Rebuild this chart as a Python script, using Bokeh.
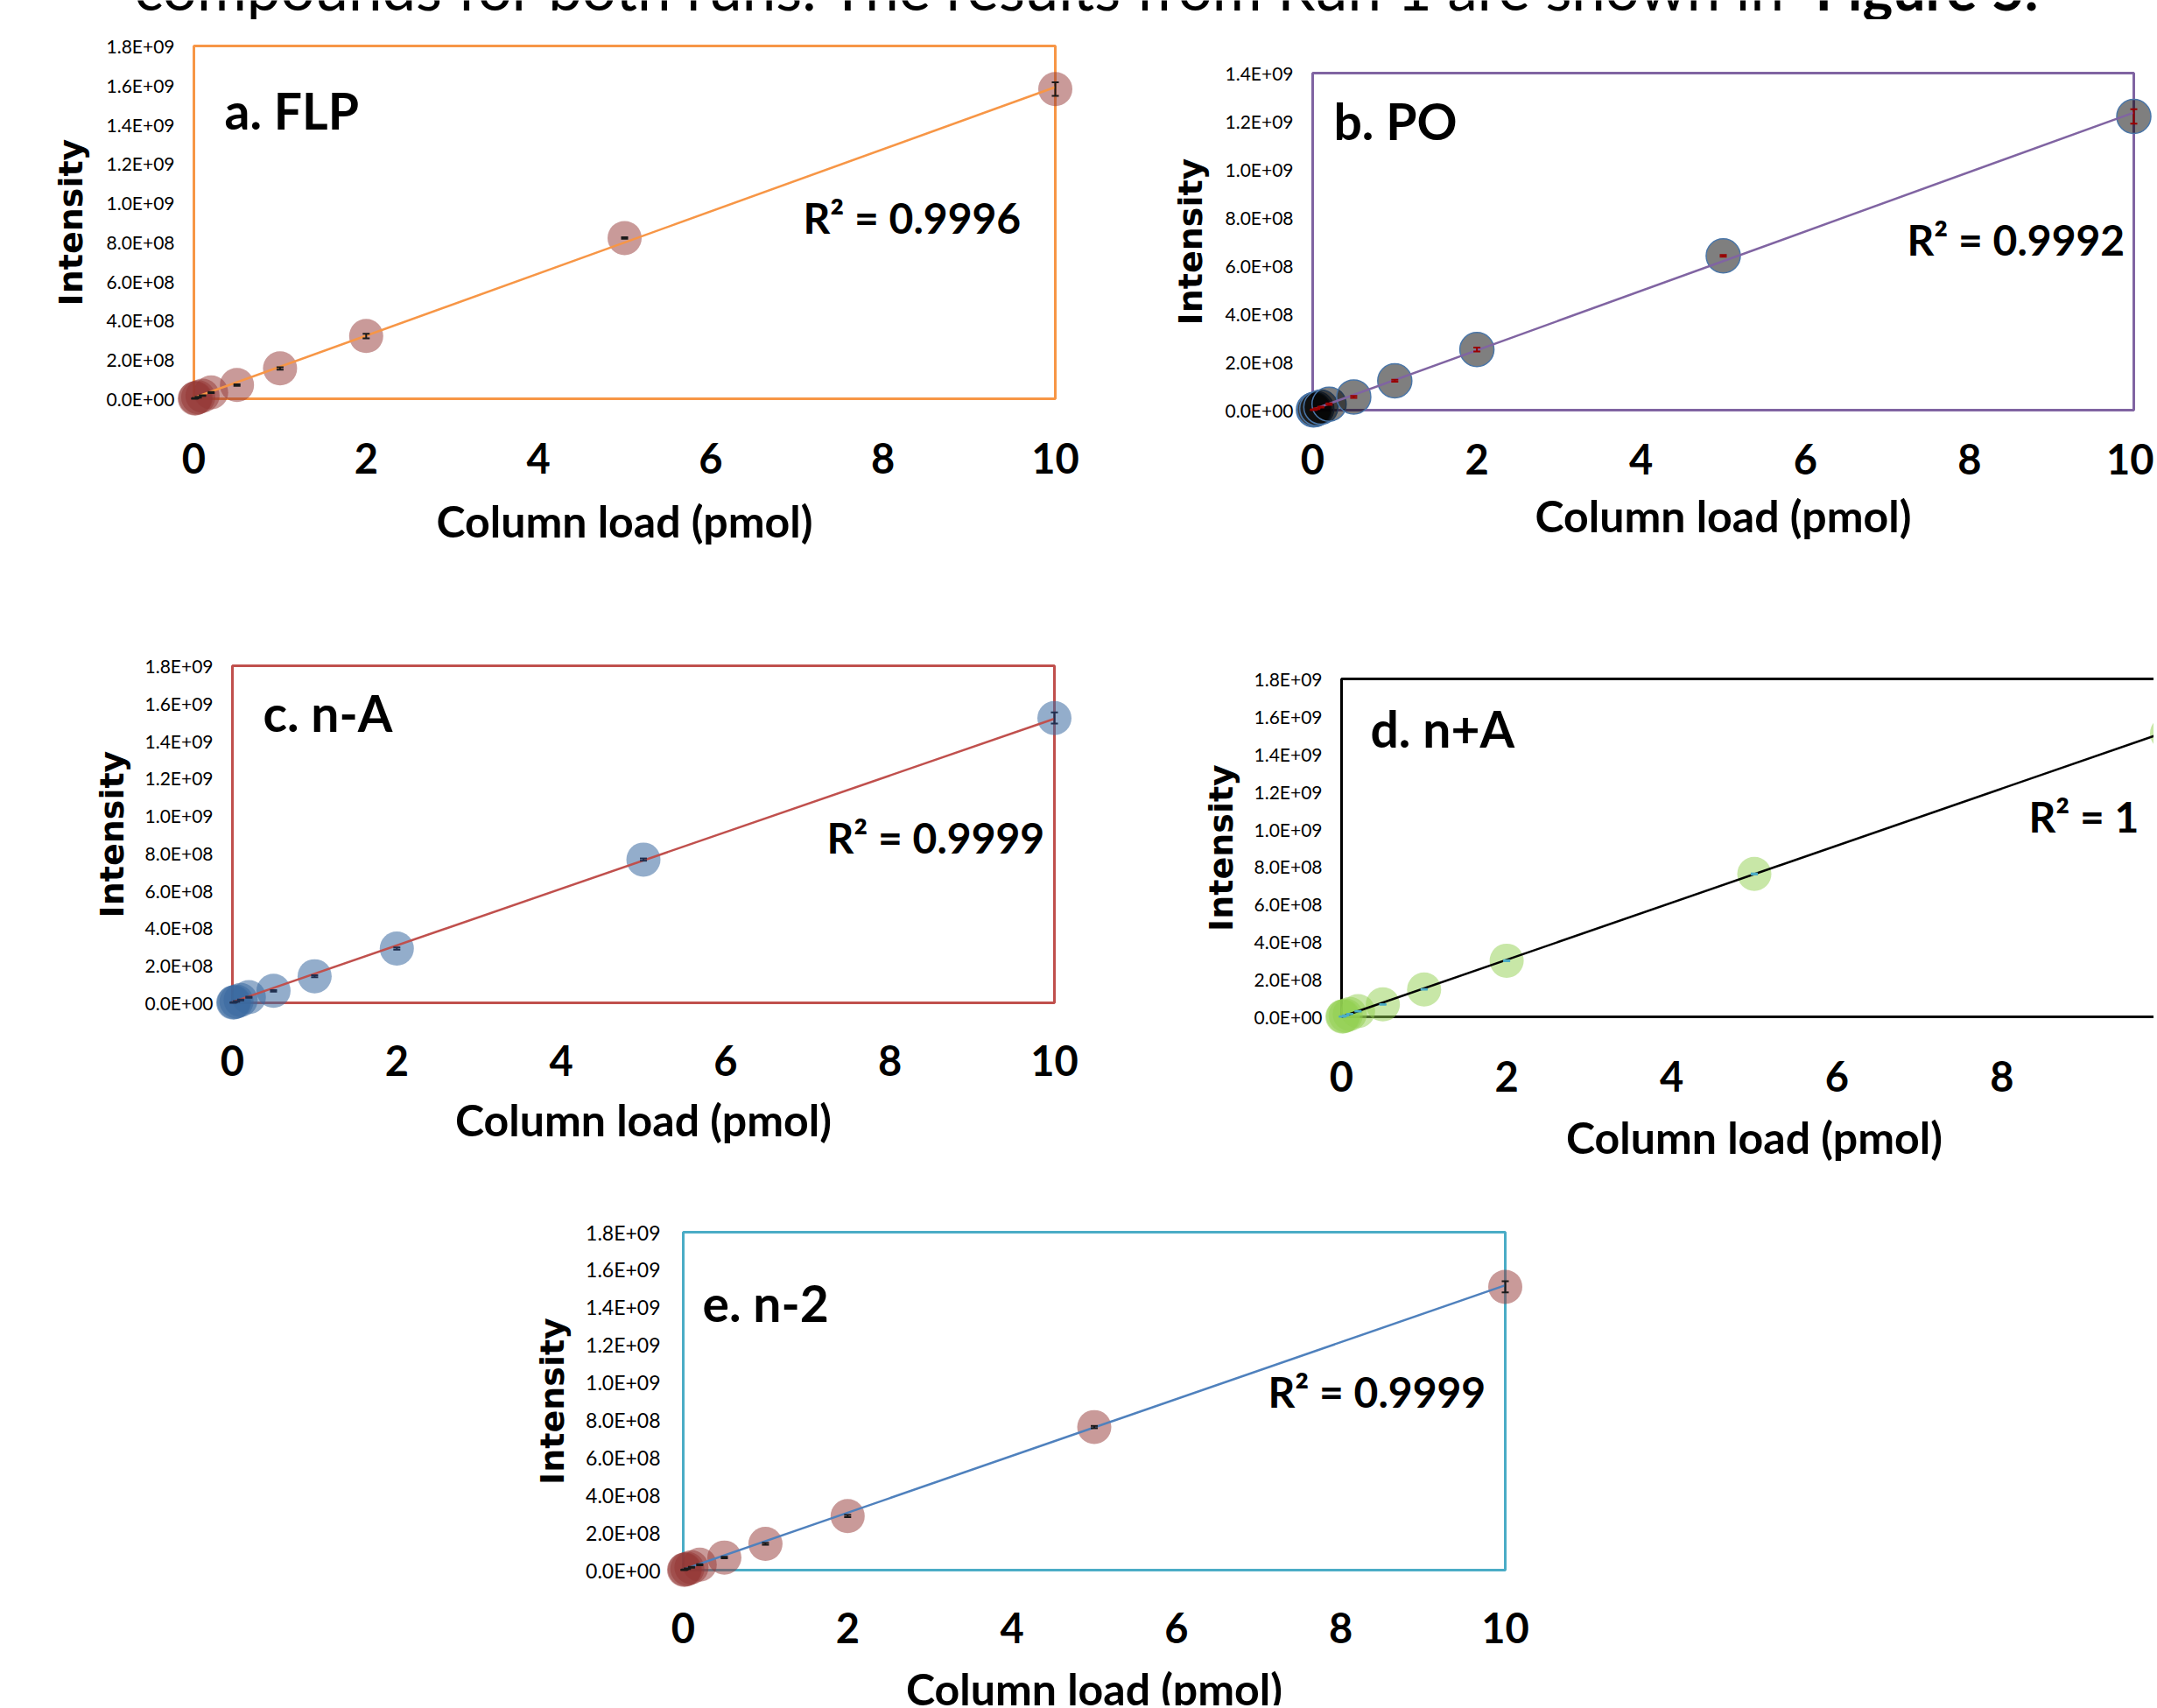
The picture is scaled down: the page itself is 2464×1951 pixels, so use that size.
import numpy as np
from bokeh.plotting import figure
from bokeh.layouts import column, row
from bokeh.models import (BoxAnnotation, Whisker, TeeHead, ColumnDataSource,
                          FixedTicker, Range1d, Label)
from bokeh.core.properties import value
from bokeh.embed import file_html
from bokeh.resources import INLINE

# ---------------- data ----------------
load_pmol = [0.01, 0.02, 0.05, 0.1, 0.2, 0.5, 1, 2, 5, 10]

flp_intensity = [1.5e6, 3.1e6, 7.9e6, 1.6e7, 3.2e7, 7.0e7, 1.55e8, 3.2e8, 8.2e8, 1.58e9]
flp_err = [1e6, 1e6, 2e6, 2e6, 3e6, 4e6, 6e6, 1.2e7, 4e6, 3.5e7]
flp_trend = [5e6, 1.59e9]

po_intensity = [1.2e6, 2.5e6, 6.2e6, 1.25e7, 2.5e7, 5.5e7, 1.22e8, 2.52e8, 6.41e8, 1.22e9]
po_err = [1e6, 1e6, 2e6, 2e6, 3e6, 4e6, 4e6, 8e6, 4e6, 3.0e7]
po_trend = [2e6, 1.236e9]

na_intensity = [1.5e6, 3.0e6, 7.5e6, 1.5e7, 3.0e7, 6.4e7, 1.42e8, 2.9e8, 7.65e8, 1.521e9]
na_err = [1e6, 1e6, 2e6, 2e6, 3e6, 4e6, 5e6, 6e6, 6e6, 3.0e7]
na_trend = [4e6, 1.517e9]

npa_intensity = [1.5e6, 3.0e6, 7.5e6, 1.5e7, 3.0e7, 6.6e7, 1.46e8, 2.99e8, 7.61e8, 1.51e9]
npa_err = [1e6, 1e6, 1e6, 1e6, 2e6, 2e6, 2e6, 3e6, 3e6, 5e6]
npa_trend = [0.0, 1.52e9]

n2_intensity = [1.5e6, 3.0e6, 7.5e6, 1.5e7, 2.9e7, 6.7e7, 1.40e8, 2.88e8, 7.62e8, 1.509e9]
n2_err = [1e6, 1e6, 2e6, 2e6, 3e6, 4e6, 5e6, 6e6, 6e6, 3.0e7]
n2_trend = [3e6, 1.517e9]

trend_x = [0, 10]

x_ticks = [0, 2, 4, 6, 8, 10]
y_ticks_18 = [0, 200000000, 400000000, 600000000, 800000000, 1000000000,
              1200000000, 1400000000, 1600000000, 1800000000]
y_labels_18 = ["0.0E+00", "2.0E+08", "4.0E+08", "6.0E+08", "8.0E+08", "1.0E+09",
               "1.2E+09", "1.4E+09", "1.6E+09", "1.8E+09"]
y_ticks_14 = y_ticks_18[:8]
y_labels_14 = y_labels_18[:8]

titles = ["a. FLP", "b. PO", "c. n-A", "d. n+A", "e. n-2"]
r2_texts = ["R\u00b2 = 0.9996", "R\u00b2 = 0.9992", "R\u00b2 = 0.9999", "R\u00b2 = 1", "R\u00b2 = 0.9999"]
x_label = "Column load (pmol)"
y_label = "Intensity"
header_regular = "compounds for both runs. The results from Run 1 are shown in "
header_bold = "Figure 5."

# ---------------- layout / style (page pixel coordinates) ----------------
PAD = 21
PAGE_W = 2460
TITLE_SIZE = 57
R2_SIZE = 48
XLAB_SIZE = 50
MID = 0.375          # drawn baseline sits this many em below the anchor
specs = [
    dict(fig=(0, 22, 1282, 678), box=(221, 52, 1205, 455), yt=(y_ticks_18, y_labels_18),
         box_color="#F79646", line_color="#F79646",
         fill="#943634", alpha=0.5, mline=None, err_color="#1a1a1a",
         title=(256, 148), r2=(917, 267), xtick_std=29, xlab_std=21, ytick_std=1,
         ytick_font="21px", ylab_std=16),
    dict(fig=(1282, 22, 1178, 678), box=(1499, 83, 2437, 468), yt=(y_ticks_14, y_labels_14),
         box_color="#8064A2", line_color="#8064A2",
         fill="#000000", alpha=0.5, mline="#4A76A8", err_color="#990000",
         title=(1523, 160), r2=(2178, 292), xtick_std=17, xlab_std=14, ytick_std=1,
         ytick_font="21px", ylab_std=15),
    dict(fig=(0, 700, 1282, 660), box=(265, 760, 1204, 1145), yt=(y_ticks_18, y_labels_18),
         box_color="#C0504D", line_color="#C0504D",
         fill="#3B6AA0", alpha=0.55, mline=None, err_color="#1F2F4F",
         title=(300, 836), r2=(944, 975), xtick_std=27, xlab_std=17, ytick_std=1,
         ytick_font="21px", ylab_std=13),
    dict(fig=(1282, 700, 1178, 570), box=(1532, 775, 2475, 1161), yt=(y_ticks_18, y_labels_18),
         box_color="#000000", line_color="#000000",
         fill="#92D050", alpha=0.5, mline=None, err_color="#4BACC6",
         title=(1565, 854), r2=(2317, 951), xtick_std=29, xlab_std=None, ytick_std=1,
         ytick_font="21px", ylab_std=13, xlab_fig=(1282, 1270, 1178, 90), xlab_base=1317),
    dict(fig=(0, 1360, 1800, 540), box=(780, 1407, 1719, 1793), yt=(y_ticks_18, y_labels_18),
         box_color="#4BACC6", line_color="#4F81BD",
         fill="#943634", alpha=0.5, mline=None, err_color="#1a1a1a",
         title=(802, 1510), r2=(1448, 1608), xtick_std=27, xlab_std=None, ytick_std=5,
         ytick_font="23px", ylab_std=13, xlab_fig=(0, 1900, 1800, 48), xlab_base=1947),
]

series = [
    (flp_intensity, flp_err, flp_trend),
    (po_intensity, po_err, po_trend),
    (na_intensity, na_err, na_trend),
    (npa_intensity, npa_err, npa_trend),
    (n2_intensity, n2_err, n2_trend),
]


def build_panel(i):
    s = specs[i]
    ys, errs, trend = series[i]
    fx, fy, fw, fh = s["fig"]
    bl, bt, br, bb = s["box"]
    yt, yl = s["yt"]
    ymax = yt[-1]
    fl = bl - PAD
    fr = min(br + PAD, fx + fw)
    ft = bt - PAD
    fb = bb + PAD
    ux = (br - bl) / 10.0
    uy = (bb - bt) / ymax
    x0 = -(bl - fl) / ux
    x1 = 10 + (fr - br) / ux
    y0 = -(fb - bb) / uy
    y1 = ymax + (bt - ft) / uy

    def dx(px):
        return (px - bl) / ux

    def dy(py):
        return (bb - py) / uy

    p = figure(width=fw, height=fh, x_range=Range1d(x0, x1), y_range=Range1d(y0, y1),
               output_backend="svg", toolbar_location=None,
               min_border_left=fl - fx, min_border_right=fx + fw - fr,
               min_border_top=ft - fy, min_border_bottom=fy + fh - fb)
    p.outline_line_color = None
    p.grid.visible = False
    p.background_fill_color = "white"
    p.border_fill_color = "white"

    for ax in (p.xaxis[0], p.yaxis[0]):
        ax.axis_line_color = None
        ax.major_tick_line_color = None
        ax.minor_tick_line_color = None
        ax.major_tick_out = 0
        ax.major_tick_in = 0
        ax.major_label_text_color = "black"
    p.xaxis.ticker = FixedTicker(ticks=x_ticks)
    p.xaxis.major_label_text_font = "Lato"
    p.xaxis.major_label_text_font_style = "bold"
    p.xaxis.major_label_text_font_size = "47px"
    p.xaxis.major_label_standoff = s["xtick_std"]
    if s["xlab_std"] is not None:
        p.xaxis.axis_label = x_label
        p.xaxis.axis_label_text_font = "Lato"
        p.xaxis.axis_label_text_font_style = "bold"
        p.xaxis.axis_label_text_font_size = f"{XLAB_SIZE}px"
        p.xaxis.axis_label_text_color = "black"
        p.xaxis.axis_label_standoff = s["xlab_std"]

    p.yaxis.ticker = FixedTicker(ticks=yt)
    p.yaxis.major_label_overrides = {int(t): l for t, l in zip(yt, yl)}
    p.yaxis.major_label_text_font = "Lato"
    p.yaxis.major_label_text_font_size = s["ytick_font"]
    p.yaxis.major_label_standoff = s["ytick_std"]
    p.yaxis.axis_label = y_label
    p.yaxis.axis_label_text_font = "DejaVu Sans"
    p.yaxis.axis_label_text_font_style = "bold"
    p.yaxis.axis_label_text_font_size = "38px"
    p.yaxis.axis_label_text_color = "black"
    p.yaxis.axis_label_standoff = s["ylab_std"]

    # the coloured plot box
    p.add_layout(BoxAnnotation(left=0, right=10, bottom=0, top=ymax, fill_color=None,
                               fill_alpha=0, line_color=s["box_color"], line_alpha=1.0,
                               line_width=3, level="underlay"))

    # points
    p.scatter(load_pmol, ys, size=39, fill_color=s["fill"], fill_alpha=s["alpha"],
              line_color=s["mline"] if s["mline"] else None, line_width=1.5)

    # error bars
    ya = np.array(ys, dtype=float)
    ea = np.array(errs, dtype=float)
    src = ColumnDataSource(dict(x=load_pmol, upper=ya + ea, lower=ya - ea))
    p.add_layout(Whisker(source=src, base="x", upper="upper", lower="lower",
                         line_color=s["err_color"], line_width=2, level="annotation",
                         upper_head=TeeHead(size=8, line_color=s["err_color"], line_width=2),
                         lower_head=TeeHead(size=8, line_color=s["err_color"], line_width=2)))

    # linear trend line
    p.line(trend_x, trend, line_color=s["line_color"], line_width=2.5)

    # panel title and R^2
    tx, ty = s["title"]
    p.add_layout(Label(x=dx(tx), y=dy(ty - 0.4 * TITLE_SIZE), text=titles[i],
                       text_font="Lato", text_font_style="bold",
                       text_font_size=f"{TITLE_SIZE}px", text_color="black",
                       text_align="left", text_baseline="alphabetic"))
    rx, ry = s["r2"]
    p.add_layout(Label(x=dx(rx), y=dy(ry - 0.4 * R2_SIZE), text=r2_texts[i],
                       text_font="Lato", text_font_style="bold",
                       text_font_size=f"{R2_SIZE}px", text_color="black",
                       text_align="left", text_baseline="alphabetic"))

    if s["xlab_std"] is None:
        # x-axis title drawn in its own strip below the panel
        lx, ly, lw, lh = s["xlab_fig"]
        lab = figure(width=lw, height=lh, x_range=Range1d(lx, lx + lw),
                     y_range=Range1d(ly + lh, ly), output_backend="svg",
                     toolbar_location=None, min_border=0,
                     x_axis_location=None, y_axis_location=None)
        lab.outline_line_color = None
        lab.grid.visible = False
        lab.text(x=[(bl + br) / 2], y=[s["xlab_base"] - MID * XLAB_SIZE], text=[x_label],
                 text_font=value("Lato"), text_font_style="bold",
                 text_font_size=f"{XLAB_SIZE}px", text_color="black",
                 text_align="center", text_baseline="alphabetic")
        return column(row(p), row(lab))
    return column(p)


panels = [build_panel(i) for i in range(5)]

# header sentence cut off at the top of the page (y axis points down: page pixels)
HDR_SIZE = 69
hdr = figure(width=PAGE_W, height=22, x_range=Range1d(0, PAGE_W), y_range=Range1d(22, 0),
             output_backend="svg", toolbar_location=None, min_border=0,
             x_axis_location=None, y_axis_location=None)
hdr.outline_line_color = None
hdr.grid.visible = False
hdr.text(x=[153], y=[11 - MID * HDR_SIZE], text=[header_regular], text_font=value("Lato"),
         text_font_size=f"{HDR_SIZE}px", text_color="black", text_align="left",
         text_baseline="alphabetic")
hdr.text(x=[2328], y=[11 - MID * 66], text=[header_bold], text_font=value("Lato"),
         text_font_style="bold", text_font_size="66px", text_color="black",
         text_align="right", text_baseline="alphabetic")

layout = column(
    row(hdr),
    row(panels[0], panels[1]),
    row(panels[2], panels[3]),
    row(panels[4]),
)

open("out.html", "w").write(file_html(layout, INLINE))
